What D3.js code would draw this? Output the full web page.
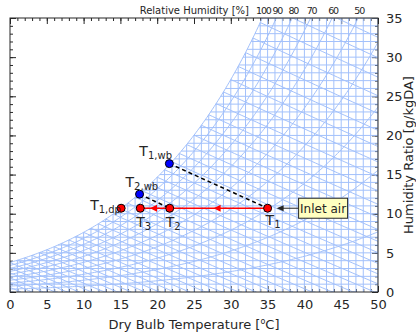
<!DOCTYPE html>
<html lang="en">
<head>
<meta charset="utf-8">
<title>Psychrometric chart</title>
<script src="https://d3js.org/d3.v7.min.js"></script>
<style>
    body { margin: 0; background: #fff; }
    text { font-family: "DejaVu Sans", sans-serif; fill: #262626; }
</style>
</head>
<body>
<script>
    // chart data
    var tempTicks = d3.range(0, 51, 5);          // dry bulb [C]
    var humTicks = d3.range(0, 36, 5);           // humidity ratio [g/kg]
    var dryBulbLines = d3.range(0, 51, 1);
    var humLines = d3.range(1, 36, 1);
    var rhLevels = [10, 20, 30, 40, 50, 60, 70, 80, 90, 100];
    var rhLabels = [100, 90, 80, 70, 60, 50];
    var wbLevels = d3.range(-10, 38, 1);

    // state points
    var stateNames = ["1", "2", "3", "1,dp", "2,wb", "1,wb"];
    var stateTemp = [35, 21.7, 17.7, 15.1, 17.6, 21.65];
    var stateHum = [10.7, 10.7, 10.7, 10.7, 12.5, 16.4];

    var w = 416, h = 334;
    var P = 101.325;

    var x = d3.scaleLinear().domain([0, 50]).range([10, 378]);
    var y = d3.scaleLinear().domain([0, 35]).range([292, 18]);

    function pws(t) { return 0.61094 * Math.exp(17.625 * t / (t + 243.04)); }
    function tFromP(p) { var a = Math.log(p / 0.61094); return 243.04 * a / (17.625 - a); }
    function wAt(t, rh) { var p = pws(t) * rh / 100; return 622 * p / (P - p); }
    // temperature where the curve of a given RH reaches humidity ratio wg
    function tAt(wg, rh) { return tFromP(wg * P / (622 + wg) * 100 / rh); }
    function wWb(t, twb) {
        var ws = wAt(twb, 100) / 1000;
        return 1000 * ((2501 - 2.326 * twb) * ws - 1.006 * (t - twb)) / (2501 + 1.86 * t - 4.186 * twb);
    }

    var svg = d3.select("body").append("svg")
        .attr("width", w).attr("height", h);

    svg.append("defs").append("clipPath").attr("id", "plot")
        .append("rect").attr("x", x(0)).attr("y", y(35))
        .attr("width", x(50) - x(0)).attr("height", y(0) - y(35));

    // ticks (inward, mirrored)
    function tickGroup(axis, tx, ty) {
        var g = svg.append("g").attr("transform", "translate(" + tx + "," + ty + ")").call(axis);
        g.select(".domain").remove();
        g.selectAll("line").attr("stroke", "#262626");
        g.selectAll("text").attr("font-size", "13px").attr("fill", "#262626")
            .attr("font-family", "DejaVu Sans, sans-serif");
        return g;
    }
    var minorT = d3.range(0, 51, 1), minorW = d3.range(0, 36, 1);
    tickGroup(d3.axisBottom(x).tickValues(minorT).tickSize(-3).tickFormat(""), 0, y(0));
    tickGroup(d3.axisTop(x).tickValues(minorT).tickSize(-3).tickFormat(""), 0, y(35));
    tickGroup(d3.axisTop(x).tickValues(tempTicks).tickSize(-6).tickFormat(""), 0, y(35));
    tickGroup(d3.axisLeft(y).tickValues(minorW).tickSize(-3).tickFormat(""), x(0), 0);
    tickGroup(d3.axisLeft(y).tickValues(humTicks).tickSize(-6).tickFormat(""), x(0), 0);
    tickGroup(d3.axisRight(y).tickValues(minorW).tickSize(-3).tickFormat(""), x(50), 0);
    tickGroup(d3.axisBottom(x).tickValues(tempTicks).tickSize(-6).tickPadding(8), 0, y(0));
    tickGroup(d3.axisRight(y).tickValues(humTicks).tickSize(-6).tickPadding(8), x(50), 0);

    // psychrometric grid
    var grid = svg.append("g").attr("clip-path", "url(#plot)")
        .attr("fill", "none").attr("stroke", "#a3c1fb").attr("stroke-width", 1);
    var line = d3.line().x(function (d) { return x(d[0]); }).y(function (d) { return y(d[1]); });

    grid.selectAll(".db").data(dryBulbLines).enter().append("path")
        .attr("d", function (t) { return line([[t, 0], [t, wAt(t, 100)]]); });
    grid.selectAll(".hw").data(humLines).enter().append("path")
        .attr("d", function (v) { return line([[Math.max(tAt(v, 100), 0), v], [50, v]]); });
    grid.selectAll(".rh").data(rhLevels).enter().append("path")
        .attr("d", function (rh) {
            return line(d3.range(0, 50.01, 0.25).map(function (t) { return [t, wAt(t, rh)]; }));
        });
    grid.selectAll(".wb").data(wbLevels).enter().append("path")
        .attr("d", function (twb) {
            var pts = [];
            for (var t = twb; t <= 50.01; t += 0.5) {
                var v = wWb(t, twb);
                if (v < 0) { pts.push([t, 0]); break; }
                pts.push([t, v]);
            }
            return line(pts);
        });

    // frame
    svg.append("rect").attr("x", x(0)).attr("y", y(35))
        .attr("width", x(50) - x(0)).attr("height", y(0) - y(35))
        .attr("fill", "none").attr("stroke", "#262626").attr("stroke-width", 1);

    // RH labels along the top
    svg.selectAll(".rhl").data(rhLabels).enter().append("text")
        .attr("x", function (rh) { return x(tAt(35, rh)) + 1; })
        .attr("y", 14).attr("text-anchor", "middle").attr("font-size", "9.5px")
        .attr("letter-spacing", "-1.2px")
        .text(function (rh) { return rh; });
    svg.append("text").attr("x", 249).attr("y", 14).attr("text-anchor", "end")
        .attr("font-size", "10px").text("Relative Humidity [%]");

    // axis titles
    var xt = svg.append("text").attr("x", (x(0) + x(50)) / 2).attr("y", 329)
        .attr("text-anchor", "middle").attr("font-size", "13px");
    xt.append("tspan").text("Dry Bulb Temperature [");
    xt.append("tspan").attr("font-size", "8px").attr("dy", -5).text("o");
    xt.append("tspan").attr("dy", 5).text("C]");
    svg.append("text").attr("transform", "translate(413," + ((y(0) + y(35)) / 2) + ") rotate(-90)")
        .attr("text-anchor", "middle").attr("font-size", "13px").text("Humidity Ratio [g/kgDA]");

    // processes
    function pt(i) { return [x(stateTemp[i]), y(stateHum[i])]; }
    var dashed = [[5, 0], [4, 1]];
    dashed.forEach(function (s) {
        var a = pt(s[0]), b = pt(s[1]);
        svg.append("line").attr("x1", a[0]).attr("y1", a[1]).attr("x2", b[0]).attr("y2", b[1])
            .attr("stroke", "#000").attr("stroke-width", 1.5).attr("stroke-dasharray", "4,3");
    });
    var process = [[0, 1], [1, 2]];
    process.forEach(function (s) {
        var a = pt(s[0]), b = pt(s[1]);
        svg.append("line").attr("x1", a[0]).attr("y1", a[1]).attr("x2", b[0]).attr("y2", b[1])
            .attr("stroke", "#ff0000").attr("stroke-width", 1.5);
        var mx = (a[0] + b[0]) / 2, my = (a[1] + b[1]) / 2;
        svg.append("path").attr("d", "M" + (mx - 5) + "," + my + "L" + (mx + 2) + "," + (my - 3.5) +
            "L" + (mx + 2) + "," + (my + 3.5) + "Z").attr("fill", "#ff0000");
    });

    // inlet air annotation
    var p1 = pt(0);
    svg.append("line").attr("x1", p1[0] + 31).attr("y1", p1[1]).attr("x2", p1[0] + 14).attr("y2", p1[1])
        .attr("stroke", "#262626").attr("stroke-width", 1);
    svg.append("path").attr("d", "M" + (p1[0] + 9) + "," + p1[1] + "L" + (p1[0] + 16) + "," + (p1[1] - 3) +
        "L" + (p1[0] + 16) + "," + (p1[1] + 3) + "Z").attr("fill", "#262626");
    svg.append("rect").attr("x", p1[0] + 31).attr("y", p1[1] - 10).attr("width", 49).attr("height", 20)
        .attr("fill", "#ffffc0").attr("stroke", "#262626").attr("stroke-width", 1);
    svg.append("text").attr("x", p1[0] + 55.5).attr("y", p1[1] + 4.5).attr("text-anchor", "middle")
        .attr("font-size", "12px").text("Inlet air");

    // state markers
    svg.selectAll(".st").data(stateNames).enter().append("circle")
        .attr("cx", function (d, i) { return x(stateTemp[i]); })
        .attr("cy", function (d, i) { return y(stateHum[i]); })
        .attr("r", 4)
        .attr("fill", function (d) { return d.indexOf("wb") >= 0 ? "#0000ff" : "#ff0000"; })
        .attr("stroke", "#000").attr("stroke-width", 1);

    // labels (offset of T from marker)
    var labelOffset = { "1": [-2, 17], "2": [-4, 19], "3": [-4, 19], "1,dp": [-31, 2], "2,wb": [-14, -7], "1,wb": [-30, -8] };
    stateNames.forEach(function (n, i) {
        var o = labelOffset[n];
        var t = svg.append("text").attr("x", x(stateTemp[i]) + o[0]).attr("y", y(stateHum[i]) + o[1])
            .attr("font-size", "14px");
        t.append("tspan").text("T");
        t.append("tspan").attr("font-size", "10px").attr("dy", 3).text(n);
    });
</script>
</body>
</html>
